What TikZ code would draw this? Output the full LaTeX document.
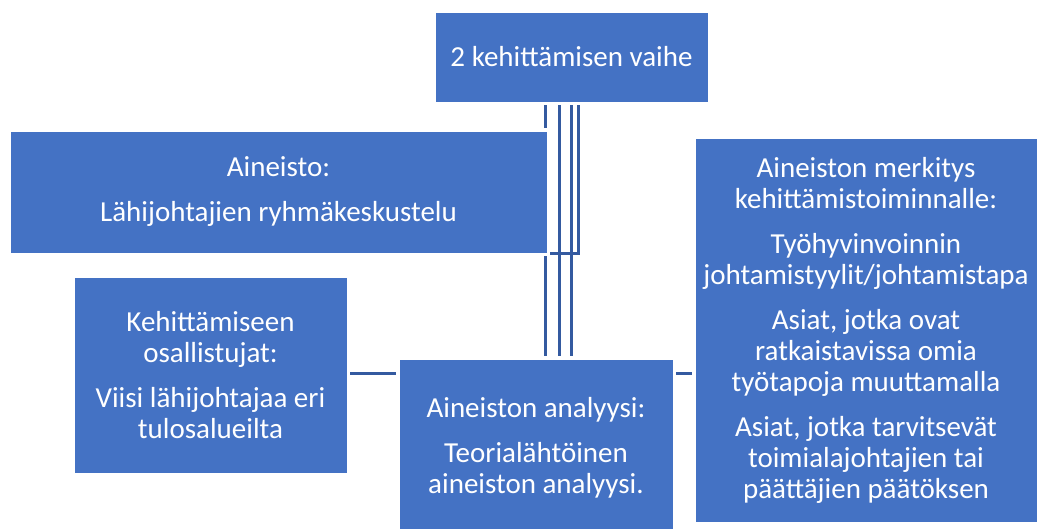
\documentclass[tikz,border=0pt]{standalone}
\usepackage{fontspec}
\setmainfont{Carlito}
\usepackage{tikz}
\definecolor{boxblue}{RGB}{68, 114, 196}
\definecolor{linkblue}{RGB}{52, 90, 160}
\tikzstyle{stage}=[rectangle, fill=boxblue, draw=white, line width=1pt, text=white, align=center, inner sep=0pt, font=\fontsize{29}{31}\selectfont]
\tikzstyle{link}=[line width=3pt, color=linkblue, shorten <=2.5pt, shorten >=2.5pt]

\begin{document}
\begin{tikzpicture}[x=1pt, y=-1pt]
    \clip (0,0) rectangle (1038,528);

    % Boxes
    \node[stage, minimum width=273pt, minimum height=90pt] (vaihe) at (571.5,57) {2 kehittämisen vaihe};

    \node[stage, minimum width=537pt, minimum height=122pt] (aineisto) at (278.5,192) {Aineisto:\\[14pt]Lähijohtajien ryhmäkeskustelu};

    \node[stage, minimum width=273pt, minimum height=196pt] (osallistujat) at (210.5,375) {Kehittämiseen\\osallistujat:\\[14pt]Viisi lähijohtajaa eri\\tulosalueilta};

    \node[stage, minimum width=274pt, minimum height=178pt] (analyysi) at (536,448) {Aineiston analyysi:\\[14pt]Teorialähtöinen\\aineiston analyysi.};

    \node[stage, minimum width=342pt, minimum height=384pt] (merkitys) at (866,330) {Aineiston merkitys\\kehittämistoiminnalle:\\[14pt]Työhyvinvoinnin\\johtamistyylit/johtamistapa\\[14pt]Asiat, jotka ovat\\ratkaistavissa omia\\työtapoja muuttamalla\\[14pt]Asiat, jotka tarvitsevät\\toimialajohtajien tai\\päättäjien päätöksen};

    % Vertical connectors
    \draw[link] ([xshift=-26.5pt]vaihe.south) -- ([xshift=-26.5pt]vaihe.south |- aineisto.north);
    \draw[link] ([xshift=-26.5pt]vaihe.south |- aineisto.south) -- ([xshift=-26.5pt]vaihe.south |- analyysi.north);
    \foreach \dx in {-12.5,-0.5} {
        \draw[link] ([xshift=\dx pt]vaihe.south) -- ([xshift=\dx pt]vaihe.south |- analyysi.north);
    }
    \draw[link] ([xshift=6.5pt]vaihe.south) |- (aineisto.south east);

    % Horizontal connectors
    \coordinate (midrow) at (0,373);
    \draw[link] (osallistujat.east |- midrow) -- (analyysi.west |- midrow);
    \draw[link] (analyysi.east |- midrow) -- (merkitys.west |- midrow);

\end{tikzpicture}
\end{document}
